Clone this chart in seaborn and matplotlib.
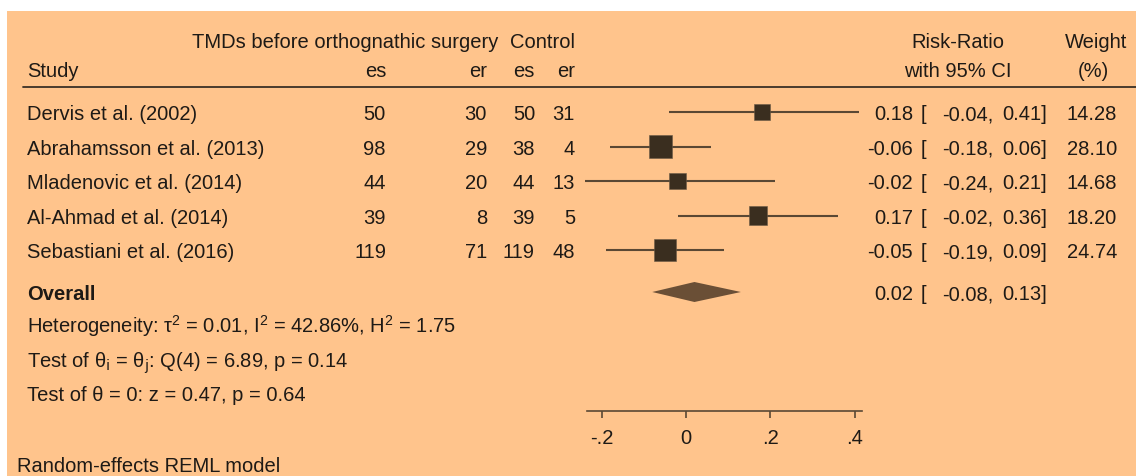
import matplotlib
matplotlib.use("Agg")
import matplotlib.pyplot as plt
import matplotlib.transforms as mtransforms
from matplotlib.patches import Rectangle
from matplotlib.lines import Line2D
import numpy as np
import pandas as pd
import seaborn as sns

# ─── data ─────────────────────────────────────────────────────────────────────
studies = ["Dervis et al. (2002)", "Abrahamsson et al. (2013)", "Mladenovic et al. (2014)",
           "Al-Ahmad et al. (2014)", "Sebastiani et al. (2016)"]
treat_es = [50, 98, 44, 39, 119]
treat_er = [30, 29, 20, 8, 71]
ctrl_es = [50, 38, 44, 39, 119]
ctrl_er = [31, 4, 13, 5, 48]
rr = [0.18, -0.06, -0.02, 0.17, -0.05]
ci_lo = [-0.04, -0.18, -0.24, -0.02, -0.19]
ci_hi = [0.41, 0.06, 0.21, 0.36, 0.09]
weights = [14.28, 28.10, 14.68, 18.20, 24.74]
overall = (0.02, -0.08, 0.13)
xticks = [-0.2, 0, 0.2, 0.4]
xticklabels = ["-.2", "0", ".2", ".4"]
stats_lines = [
    r"Heterogeneity: τ$^{2}$ = 0.01, I$^{2}$ = 42.86%, H$^{2}$ = 1.75",
    r"Test of θ$_{\mathrm{i}}$ = θ$_{\mathrm{j}}$: Q(4) = 6.89, p = 0.14",
    "Test of θ = 0: z = 0.47, p = 0.64",
]

# ─── style ────────────────────────────────────────────────────────────────────
sns.set_theme(style="white")
plt.rcParams["font.family"] = ["Liberation Sans", "DejaVu Sans"]
plt.rcParams["mathtext.default"] = "regular"

BG = "#FFC48C"
TXT = "#1E1A16"
SQ = "#3A2E1F"
LN = "#5A4834"
DIA = "#6A4F36"
FS = 14.5
BASE = 7.2  # px from visual centre of digits down to baseline

W, H = 1136, 477
fig = plt.figure(figsize=(W / 100, H / 100), dpi=100, facecolor="white")
fig.add_artist(Rectangle((7 / W, 0), 1 - 7 / W, 1 - 12 / H, transform=fig.transFigure,
                         facecolor=BG, edgecolor="none", zorder=-10))

def fx(px):
    return px / W

def fy(py):
    return 1 - py / H

# forest axes: x spans 587..862 px, bottom spine at y=412 px
ax = fig.add_axes([fx(587), fy(412), fx(862) - fx(587), 412 / H])
ax.patch.set_alpha(0)
row_h = 34.5
ax.set_xlim(-0.2346, 0.417)
ax.set_ylim((412 - 113) / row_h, -113 / row_h)

rows = np.arange(len(studies), dtype=float)
row_overall = (293 - 113) / row_h
row_stats = [(326 - 113) / row_h, (360 - 113) / row_h, (394 - 113) / row_h]

df = pd.DataFrame({"study": studies, "rr": rr, "lo": ci_lo, "hi": ci_hi,
                   "weight": weights, "row": rows})

ax.hlines(df["row"], df["lo"], df["hi"], color=LN, lw=1.5, zorder=2, clip_on=False)
sns.scatterplot(data=df, x="rr", y="row", size="weight", sizes=(139, 274),
                size_norm=(14.28, 28.10), marker="s", color=SQ, linewidth=0.4,
                edgecolor="#6b5a45", legend=False, ax=ax, zorder=3, clip_on=False)

est, lo, hi = overall
dh = 10 / row_h
ax.fill([lo, est, hi, est], [row_overall, row_overall - dh, row_overall, row_overall + dh],
        color=DIA, lw=0, zorder=3, clip_on=False)

for side in ["top", "left", "right"]:
    ax.spines[side].set_visible(False)
ax.spines["bottom"].set_color(LN)
ax.spines["bottom"].set_linewidth(1.2)
ax.set_yticks([])
ax.set_xticks(xticks)
ax.set_xticklabels(xticklabels)
ax.tick_params(axis="x", bottom=True, direction="out", length=5, width=1.2,
               color=LN, labelsize=FS, labelcolor=TXT, pad=7)
ax.set_xlabel("")
ax.set_ylabel("")

# ─── text columns ─────────────────────────────────────────────────────────────
tr = mtransforms.blended_transform_factory(fig.transFigure, ax.transData)

def rtext(px, row, s, ha="right", **kw):
    ax.text(fx(px), row + BASE / row_h, s, transform=tr, ha=ha, va="baseline",
            fontsize=FS, color=TXT, **kw)

for i, r in enumerate(rows):
    rtext(27, r, studies[i], ha="left")
    rtext(386, r, f"{treat_es[i]}")
    rtext(487, r, f"{treat_er[i]}")
    rtext(535, r, f"{ctrl_es[i]}")
    rtext(575, r, f"{ctrl_er[i]}")
    rtext(913, r, f"{rr[i]:.2f}")
    rtext(921, r, "[", ha="left")
    rtext(993, r, f"{ci_lo[i]:.2f},")
    rtext(1047, r, f"{ci_hi[i]:.2f}]")
    rtext(1117, r, f"{weights[i]:.2f}")

rtext(27, row_overall, "Overall", ha="left", fontweight="bold")
rtext(913, row_overall, f"{est:.2f}")
rtext(921, row_overall, "[", ha="left")
rtext(993, row_overall, f"{lo:.2f},")
rtext(1047, row_overall, f"{hi:.2f}]")

for r, s in zip(row_stats, stats_lines):
    rtext(27, r, s, ha="left")

# header
def htext(px, py, s, ha="right"):
    fig.text(fx(px), fy(py + BASE), s, ha=ha, va="baseline", fontsize=FS, color=TXT)

htext(498, 41, "TMDs before orthognathic surgery")
htext(575, 41, "Control")
htext(27, 70, "Study", ha="left")
htext(386, 70, "es")
htext(487, 70, "er")
htext(535, 70, "es")
htext(575, 70, "er")
htext(958, 41, "Risk-Ratio", ha="center")
htext(958, 70, "with 95% CI", ha="center")
htext(1096, 41, "Weight", ha="center")
htext(1093, 70, "(%)", ha="center")
fig.add_artist(Line2D([fx(23), fx(1136)], [fy(88), fy(88)], transform=fig.transFigure,
                      color="#3A3026", lw=1.3))

htext(17, 465, "Random-effects REML model", ha="left")

fig.savefig("out.png", dpi=100, facecolor="white")
